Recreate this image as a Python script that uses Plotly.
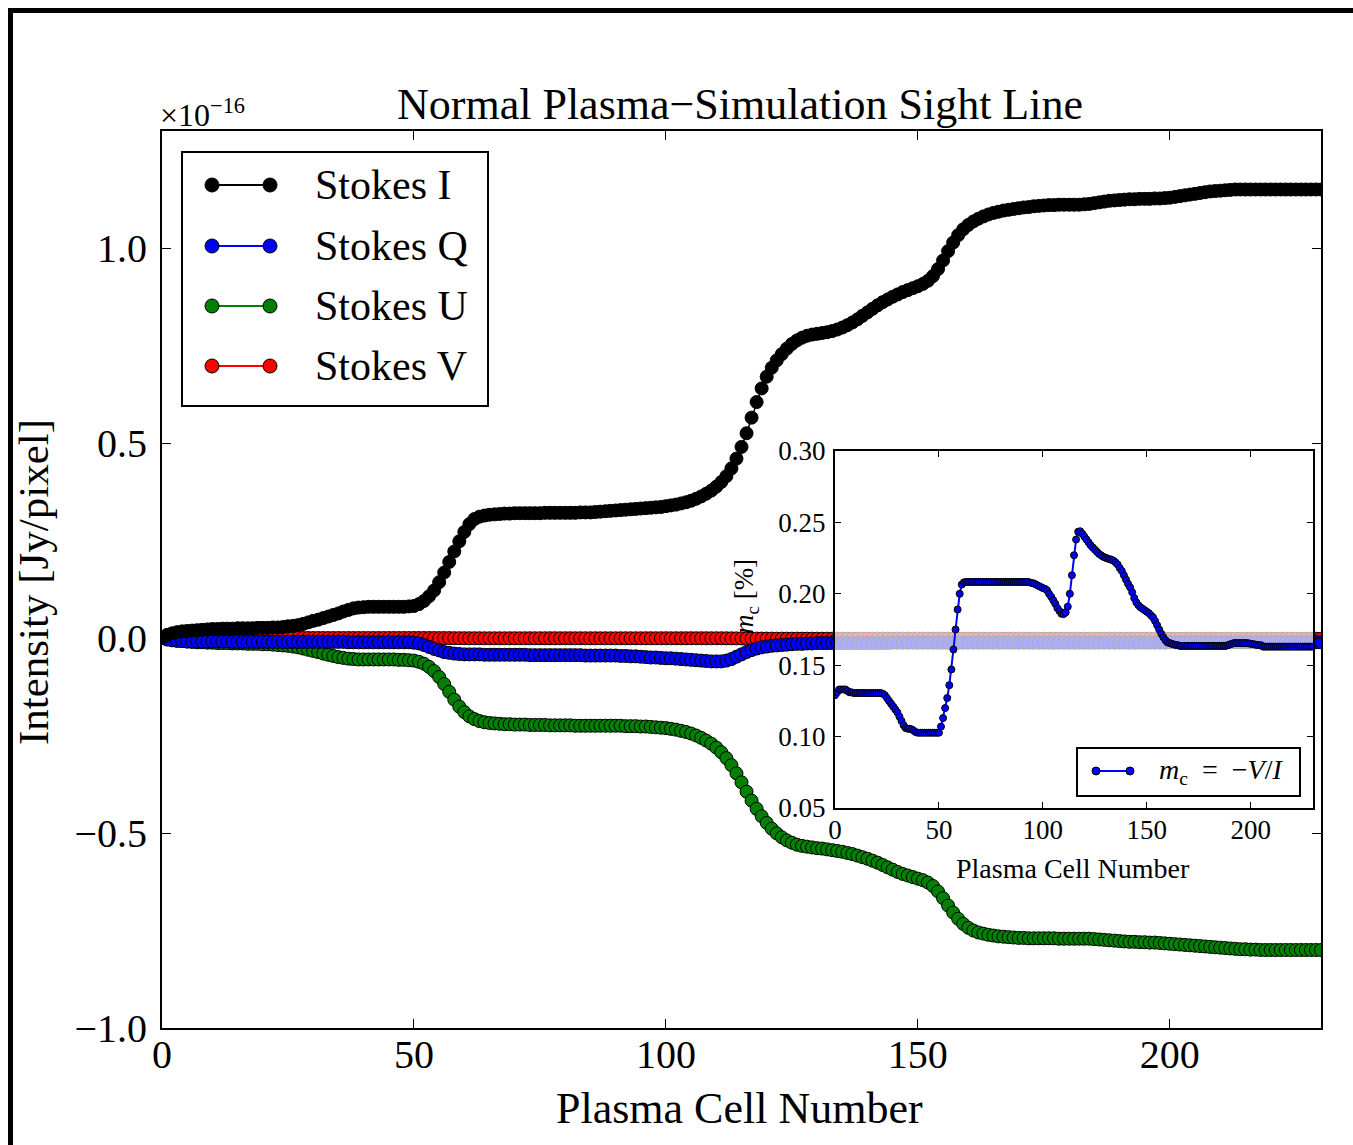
import plotly.graph_objects as go

W, H = 1353, 1145
FONT = "Liberation Serif"

# ---------------- data ----------------
cells = list(range(231))

stokes_I = [
    0.000, 0.008, 0.012, 0.015, 0.017, 0.018, 0.019, 0.020, 0.021, 0.022,
    0.023, 0.023, 0.024, 0.024, 0.024, 0.025, 0.025, 0.025, 0.025, 0.026,
    0.026, 0.026, 0.027, 0.027, 0.028, 0.030, 0.031, 0.033, 0.036, 0.040,
    0.044, 0.047, 0.051, 0.055, 0.059, 0.063, 0.068, 0.072, 0.076, 0.078,
    0.079, 0.080, 0.080, 0.080, 0.080, 0.080, 0.080, 0.080, 0.080, 0.081,
    0.082, 0.087, 0.095, 0.107, 0.122, 0.143, 0.168, 0.195, 0.222, 0.248,
    0.272, 0.292, 0.305, 0.311, 0.314, 0.316, 0.317, 0.318, 0.319, 0.319,
    0.320, 0.320, 0.320, 0.320, 0.320, 0.320, 0.321, 0.321, 0.321, 0.321,
    0.321, 0.321, 0.321, 0.322, 0.322, 0.322, 0.323, 0.324, 0.325, 0.326,
    0.327, 0.328, 0.329, 0.330, 0.331, 0.332, 0.333, 0.334, 0.335, 0.336,
    0.338, 0.340, 0.342, 0.345, 0.348, 0.352, 0.357, 0.363, 0.370, 0.378,
    0.388, 0.400, 0.415, 0.435, 0.460, 0.490, 0.525, 0.565, 0.605, 0.640,
    0.670, 0.693, 0.712, 0.728, 0.742, 0.754, 0.763, 0.770, 0.775, 0.778,
    0.780, 0.782, 0.784, 0.787, 0.791, 0.796, 0.802, 0.809, 0.817, 0.826,
    0.835, 0.844, 0.853, 0.861, 0.868, 0.875, 0.881, 0.887, 0.892, 0.897,
    0.902, 0.908, 0.916, 0.928, 0.946, 0.968, 0.992, 1.014, 1.033, 1.048,
    1.059, 1.068, 1.075, 1.081, 1.086, 1.090, 1.093, 1.096, 1.098, 1.100,
    1.102, 1.104, 1.105, 1.107, 1.108, 1.109, 1.110, 1.110, 1.111, 1.111,
    1.111, 1.111, 1.111, 1.112, 1.113, 1.115, 1.117, 1.119, 1.121, 1.122,
    1.123, 1.124, 1.125, 1.125, 1.126, 1.126, 1.126, 1.127, 1.127, 1.128,
    1.129, 1.131, 1.133, 1.135, 1.137, 1.139, 1.141, 1.143, 1.145, 1.146,
    1.147, 1.148, 1.149, 1.150, 1.150, 1.150, 1.150, 1.150, 1.150, 1.150,
    1.150, 1.150, 1.150, 1.150, 1.150, 1.150, 1.150, 1.150, 1.150, 1.150,
    1.150,
]

stokes_Q = [
    0.000, -0.004, -0.006, -0.007, -0.008, -0.009, -0.009, -0.009, -0.009, -0.009,
    -0.009, -0.009, -0.009, -0.009, -0.010, -0.010, -0.010, -0.010, -0.010, -0.010,
    -0.010, -0.010, -0.010, -0.010, -0.010, -0.010, -0.010, -0.010, -0.010, -0.010,
    -0.010, -0.010, -0.010, -0.010, -0.010, -0.010, -0.010, -0.011, -0.011, -0.011,
    -0.011, -0.011, -0.011, -0.011, -0.011, -0.011, -0.011, -0.011, -0.011, -0.011,
    -0.012, -0.014, -0.018, -0.023, -0.028, -0.032, -0.036, -0.038, -0.040, -0.041,
    -0.042, -0.042, -0.042, -0.042, -0.043, -0.043, -0.043, -0.043, -0.043, -0.043,
    -0.043, -0.043, -0.043, -0.044, -0.044, -0.044, -0.044, -0.044, -0.044, -0.044,
    -0.044, -0.044, -0.044, -0.044, -0.045, -0.045, -0.045, -0.045, -0.045, -0.045,
    -0.045, -0.046, -0.046, -0.047, -0.047, -0.048, -0.049, -0.050, -0.050, -0.051,
    -0.052, -0.052, -0.053, -0.054, -0.055, -0.056, -0.057, -0.058, -0.059, -0.060,
    -0.060, -0.060, -0.058, -0.054, -0.048, -0.042, -0.036, -0.031, -0.027, -0.024,
    -0.022, -0.020, -0.019, -0.018, -0.017, -0.016, -0.015, -0.015, -0.014, -0.014,
    -0.013, -0.013, -0.013, -0.013, -0.013, -0.013, -0.013, -0.013, -0.013, -0.013,
    -0.013, -0.013, -0.013, -0.013, -0.013, -0.012, -0.012, -0.012, -0.012, -0.012,
    -0.012, -0.012, -0.012, -0.012, -0.012, -0.012, -0.012, -0.012, -0.012, -0.012,
    -0.012, -0.012, -0.012, -0.012, -0.012, -0.012, -0.012, -0.012, -0.012, -0.012,
    -0.012, -0.012, -0.012, -0.012, -0.012, -0.012, -0.012, -0.012, -0.012, -0.012,
    -0.012, -0.012, -0.012, -0.012, -0.012, -0.012, -0.012, -0.012, -0.012, -0.012,
    -0.012, -0.012, -0.012, -0.012, -0.012, -0.012, -0.012, -0.012, -0.012, -0.012,
    -0.011, -0.011, -0.011, -0.011, -0.011, -0.011, -0.011, -0.011, -0.011, -0.011,
    -0.011, -0.011, -0.011, -0.011, -0.011, -0.011, -0.011, -0.011, -0.011, -0.011,
    -0.011, -0.011, -0.011, -0.011, -0.011, -0.011, -0.011, -0.011, -0.011, -0.011,
    -0.011,
]

stokes_U = [
    0.000, -0.003, -0.005, -0.007, -0.008, -0.009, -0.010, -0.011, -0.011, -0.012,
    -0.012, -0.013, -0.013, -0.013, -0.014, -0.014, -0.014, -0.015, -0.015, -0.015,
    -0.016, -0.016, -0.017, -0.018, -0.019, -0.020, -0.022, -0.024, -0.027, -0.030,
    -0.033, -0.036, -0.040, -0.043, -0.046, -0.049, -0.051, -0.053, -0.054, -0.055,
    -0.055, -0.055, -0.055, -0.055, -0.055, -0.055, -0.055, -0.056, -0.056, -0.057,
    -0.058, -0.061, -0.066, -0.074, -0.085, -0.100, -0.118, -0.138, -0.158, -0.176,
    -0.190, -0.201, -0.208, -0.213, -0.216, -0.218, -0.219, -0.220, -0.221, -0.221,
    -0.222, -0.222, -0.222, -0.223, -0.223, -0.223, -0.223, -0.224, -0.224, -0.224,
    -0.224, -0.224, -0.225, -0.225, -0.225, -0.225, -0.225, -0.225, -0.225, -0.225,
    -0.225, -0.225, -0.226, -0.226, -0.226, -0.227, -0.227, -0.228, -0.229, -0.230,
    -0.231, -0.233, -0.235, -0.238, -0.241, -0.245, -0.250, -0.256, -0.263, -0.271,
    -0.281, -0.293, -0.308, -0.326, -0.347, -0.370, -0.394, -0.417, -0.438, -0.457,
    -0.474, -0.489, -0.501, -0.511, -0.519, -0.525, -0.530, -0.533, -0.535, -0.537,
    -0.539, -0.540, -0.542, -0.544, -0.546, -0.548, -0.551, -0.554, -0.558, -0.562,
    -0.566, -0.571, -0.576, -0.582, -0.588, -0.594, -0.600, -0.605, -0.609, -0.613,
    -0.617, -0.621, -0.627, -0.636, -0.650, -0.667, -0.686, -0.704, -0.720, -0.733,
    -0.743, -0.750, -0.755, -0.758, -0.761, -0.763, -0.765, -0.766, -0.767, -0.768,
    -0.769, -0.769, -0.770, -0.770, -0.770, -0.770, -0.770, -0.770, -0.771, -0.771,
    -0.771, -0.771, -0.771, -0.771, -0.771, -0.772, -0.773, -0.774, -0.775, -0.776,
    -0.777, -0.778, -0.779, -0.779, -0.780, -0.780, -0.781, -0.781, -0.782, -0.783,
    -0.784, -0.785, -0.786, -0.787, -0.788, -0.789, -0.790, -0.791, -0.792, -0.793,
    -0.794, -0.795, -0.796, -0.797, -0.798, -0.798, -0.799, -0.799, -0.800, -0.800,
    -0.800, -0.800, -0.800, -0.800, -0.800, -0.800, -0.800, -0.800, -0.800, -0.800,
    -0.800,
]

stokes_V = [
    0.0000, 0.0000, 0.0000, 0.0000, 0.0000, 0.0000, 0.0000, 0.0000, 0.0000, 0.0000,
    0.0000, 0.0000, 0.0000, 0.0000, 0.0000, 0.0000, 0.0000, 0.0000, 0.0000, 0.0000,
    0.0000, 0.0000, 0.0000, 0.0000, 0.0000, 0.0000, 0.0000, 0.0000, 0.0000, 0.0000,
    -0.0001, -0.0001, -0.0001, -0.0001, -0.0001, -0.0001, -0.0001, -0.0001, -0.0001, -0.0001,
    -0.0001, -0.0001, -0.0001, -0.0001, -0.0001, -0.0001, -0.0001, -0.0001, -0.0001, -0.0001,
    -0.0001, -0.0001, -0.0001, -0.0001, -0.0002, -0.0002, -0.0002, -0.0003, -0.0004, -0.0005,
    -0.0005, -0.0006, -0.0006, -0.0006, -0.0007, -0.0007, -0.0007, -0.0007, -0.0007, -0.0007,
    -0.0007, -0.0007, -0.0007, -0.0007, -0.0007, -0.0007, -0.0007, -0.0007, -0.0007, -0.0007,
    -0.0007, -0.0007, -0.0007, -0.0007, -0.0007, -0.0007, -0.0007, -0.0007, -0.0007, -0.0007,
    -0.0007, -0.0007, -0.0007, -0.0007, -0.0007, -0.0007, -0.0007, -0.0007, -0.0007, -0.0007,
    -0.0007, -0.0007, -0.0007, -0.0007, -0.0007, -0.0007, -0.0007, -0.0007, -0.0007, -0.0007,
    -0.0007, -0.0007, -0.0008, -0.0009, -0.0010, -0.0011, -0.0012, -0.0014, -0.0015, -0.0015,
    -0.0016, -0.0016, -0.0017, -0.0017, -0.0017, -0.0017, -0.0017, -0.0018, -0.0018, -0.0018,
    -0.0018, -0.0018, -0.0018, -0.0018, -0.0018, -0.0018, -0.0018, -0.0018, -0.0018, -0.0018,
    -0.0018, -0.0017, -0.0017, -0.0017, -0.0017, -0.0017, -0.0017, -0.0017, -0.0017, -0.0017,
    -0.0017, -0.0017, -0.0017, -0.0017, -0.0017, -0.0017, -0.0017, -0.0017, -0.0017, -0.0018,
    -0.0018, -0.0018, -0.0018, -0.0018, -0.0018, -0.0018, -0.0018, -0.0018, -0.0018, -0.0018,
    -0.0018, -0.0018, -0.0018, -0.0018, -0.0018, -0.0018, -0.0018, -0.0018, -0.0018, -0.0018,
    -0.0018, -0.0018, -0.0018, -0.0018, -0.0018, -0.0018, -0.0018, -0.0018, -0.0018, -0.0018,
    -0.0018, -0.0018, -0.0018, -0.0018, -0.0018, -0.0018, -0.0018, -0.0018, -0.0018, -0.0019,
    -0.0019, -0.0019, -0.0019, -0.0019, -0.0019, -0.0019, -0.0019, -0.0019, -0.0019, -0.0019,
    -0.0019, -0.0019, -0.0019, -0.0019, -0.0019, -0.0019, -0.0019, -0.0019, -0.0019, -0.0019,
    -0.0019, -0.0019, -0.0019, -0.0019, -0.0019, -0.0019, -0.0019, -0.0019, -0.0019, -0.0019,
    -0.0019,
]

m_c = [
    0.129, 0.131, 0.133, 0.133, 0.133, 0.133, 0.132, 0.131, 0.131, 0.1305,
    0.1305, 0.1305, 0.1305, 0.1305, 0.1305, 0.1305, 0.1305, 0.1305, 0.1305, 0.1305,
    0.1305, 0.1305, 0.1305, 0.130, 0.129, 0.127, 0.125, 0.123, 0.121, 0.119,
    0.117, 0.114, 0.111, 0.108, 0.106, 0.1055, 0.1055, 0.105, 0.104, 0.103,
    0.1027, 0.1027, 0.1027, 0.1027, 0.1027, 0.1027, 0.1027, 0.1027, 0.1027, 0.1027,
    0.1027, 0.107, 0.113, 0.120, 0.127, 0.136, 0.147, 0.161, 0.175, 0.189,
    0.200, 0.2065, 0.208, 0.2083, 0.2083, 0.2083, 0.2083, 0.2083, 0.2083, 0.2083,
    0.2083, 0.2083, 0.2083, 0.2083, 0.2083, 0.2083, 0.2083, 0.2083, 0.2083, 0.2083,
    0.2083, 0.2083, 0.2083, 0.2083, 0.2083, 0.2083, 0.2083, 0.2083, 0.2083, 0.2083,
    0.2083, 0.2083, 0.2083, 0.2083, 0.2078, 0.2075, 0.207, 0.2063, 0.2055, 0.2048,
    0.204, 0.2035, 0.2025, 0.200, 0.198, 0.1955, 0.193, 0.190, 0.188, 0.186,
    0.1858, 0.187, 0.191, 0.200, 0.213, 0.227, 0.238, 0.2435, 0.2438, 0.242,
    0.240, 0.238, 0.236, 0.234, 0.2325, 0.231, 0.2295, 0.228, 0.227, 0.226,
    0.2253, 0.2248, 0.2243, 0.2238, 0.2232, 0.222, 0.2205, 0.218, 0.216, 0.213,
    0.210, 0.207, 0.2045, 0.201, 0.197, 0.194, 0.192, 0.1905, 0.1895, 0.1885,
    0.1875, 0.1865, 0.185, 0.1835, 0.181, 0.178, 0.175, 0.172, 0.1695, 0.1675,
    0.166, 0.1655, 0.165, 0.1645, 0.1642, 0.164, 0.1635, 0.1635, 0.1635, 0.1635,
    0.1635, 0.1635, 0.1635, 0.1635, 0.1635, 0.1635, 0.1635, 0.1635, 0.1635, 0.1635,
    0.1635, 0.1635, 0.1635, 0.1635, 0.1635, 0.1635, 0.1635, 0.1635, 0.1635, 0.164,
    0.1645, 0.165, 0.1655, 0.1655, 0.1655, 0.1655, 0.1655, 0.1655, 0.1655, 0.1653,
    0.165, 0.1648, 0.1645, 0.1642, 0.164, 0.164, 0.163, 0.163, 0.163, 0.163,
    0.163, 0.163, 0.163, 0.163, 0.163, 0.163, 0.163, 0.163, 0.163, 0.163,
    0.163, 0.163, 0.163, 0.163, 0.163, 0.163, 0.163, 0.163, 0.163, 0.163,
    0.163,
]

series_names = ["Stokes I", "Stokes Q", "Stokes U", "Stokes V"]
series_colors = ["#000000", "#0000ff", "#008000", "#ff0000"]
main_xticks = [0, 50, 100, 150, 200]
main_yticks = [-1.0, -0.5, 0.0, 0.5, 1.0]
main_yticklabels = ["\u22121.0", "\u22120.5", "0.0", "0.5", "1.0"]
inset_xticks = [0, 50, 100, 150, 200]
inset_yticks = [0.05, 0.10, 0.15, 0.20, 0.25, 0.30]
inset_yticklabels = ["0.05", "0.10", "0.15", "0.20", "0.25", "0.30"]


# ---------------- helpers: pixel -> paper ----------------
def px(x):
    return x / W


def py(y):
    return 1 - y / H


main_dom_x = [px(162), px(1321)]
main_dom_y = [py(1028), py(131)]
ins_dom_x = [px(835), px(1313)]
ins_dom_y = [py(808), py(451)]

fig = go.Figure()

series = {"Stokes I": stokes_I, "Stokes Q": stokes_Q, "Stokes U": stokes_U, "Stokes V": stokes_V}
color_of = dict(zip(series_names, series_colors))
draw_order = ["Stokes V", "Stokes U", "Stokes Q", "Stokes I"]
for name in draw_order:
    fig.add_trace(go.Scatter(
        x=cells, y=series[name], mode="lines+markers", name=name,
        line=dict(color=color_of[name], width=1.5),
        marker=dict(size=13, color=color_of[name], line=dict(color="black", width=1)),
        xaxis="x", yaxis="y", showlegend=False,
    ))

fig.add_trace(go.Scatter(
    x=cells, y=m_c, mode="lines+markers", name="m_c = -V/I",
    line=dict(color="#0000ff", width=2),
    marker=dict(size=7, color="#0000ff", line=dict(color="black", width=1)),
    xaxis="x2", yaxis="y2", showlegend=False,
))

axis_common = dict(
    showline=True, linecolor="black", mirror="allticks", ticks="inside",
    tickcolor="black", showgrid=False, zeroline=False, automargin=False,
)

fig.update_layout(
    width=W, height=H,
    margin=dict(l=0, r=0, t=0, b=0, pad=0, autoexpand=False),
    paper_bgcolor="white", plot_bgcolor="rgba(0,0,0,0)",
    showlegend=False,
    font=dict(family=FONT, color="black"),
    xaxis=dict(domain=main_dom_x, range=[0, 230], anchor="y", tickvals=main_xticks,
               ticklen=9, tickwidth=1, linewidth=2,
               tickfont=dict(family=FONT, size=40, color="black"),
               ticklabelstandoff=-10, **axis_common),
    yaxis=dict(domain=main_dom_y, range=[-1.0, 1.3], anchor="x", tickvals=main_yticks,
               ticktext=main_yticklabels, ticklen=9, tickwidth=1, linewidth=2,
               tickfont=dict(family=FONT, size=40, color="black"),
               ticklabelstandoff=5, **axis_common),
    xaxis2=dict(domain=ins_dom_x, range=[0, 230], anchor="y2", tickvals=inset_xticks,
                ticklen=6, tickwidth=1, linewidth=2,
                tickfont=dict(family=FONT, size=27, color="black"),
                ticklabelstandoff=-3, **axis_common),
    yaxis2=dict(domain=ins_dom_y, range=[0.05, 0.30], anchor="x2", tickvals=inset_yticks,
                ticktext=inset_yticklabels, ticklen=6, tickwidth=1, linewidth=2,
                tickfont=dict(family=FONT, size=27, color="black"),
                ticklabelstandoff=2, **axis_common),
)

shapes = []
# semi-transparent inset background (drawn under inset traces, above main traces)
shapes.append(dict(type="rect", xref="x2", yref="y2", x0=0, x1=230, y0=0.05, y1=0.30,
                   fillcolor="rgba(255,255,255,0.68)", line=dict(width=0), layer="below"))
# figure frame (top and left edges)
shapes.append(dict(type="line", xref="paper", yref="paper", x0=px(8), x1=1, y0=py(10.5), y1=py(10.5),
                   line=dict(color="black", width=5)))
shapes.append(dict(type="line", xref="paper", yref="paper", x0=px(10.5), x1=px(10.5), y0=py(8), y1=0,
                   line=dict(color="black", width=5)))

# main legend
shapes.append(dict(type="rect", xref="paper", yref="paper", x0=px(182), x1=px(488), y0=py(406), y1=py(152),
                   line=dict(color="black", width=2), fillcolor="white"))
annotations = []
leg_y = [185, 246, 306, 366]
for name, yy in zip(series_names, leg_y):
    c = color_of[name]
    shapes.append(dict(type="line", xref="paper", yref="paper", x0=px(212), x1=px(270), y0=py(yy), y1=py(yy),
                       line=dict(color=c, width=2)))
    for cx in (212, 270):
        shapes.append(dict(type="circle", xref="paper", yref="paper", x0=px(cx - 7), x1=px(cx + 7),
                           y0=py(yy + 7), y1=py(yy - 7), fillcolor=c, line=dict(color="black", width=1)))
    annotations.append(dict(xref="paper", yref="paper", x=px(313), y=py(yy), text=name, showarrow=False,
                            xanchor="left", yanchor="middle", font=dict(family=FONT, size=42, color="black")))

# inset legend
shapes.append(dict(type="rect", xref="paper", yref="paper", x0=px(1077), x1=px(1300), y0=py(796), y1=py(748),
                   line=dict(color="black", width=2), fillcolor="white"))
shapes.append(dict(type="line", xref="paper", yref="paper", x0=px(1096), x1=px(1130), y0=py(771), y1=py(771),
                   line=dict(color="#0000ff", width=2)))
for cx in (1096, 1130):
    shapes.append(dict(type="circle", xref="paper", yref="paper", x0=px(cx - 4), x1=px(cx + 4),
                       y0=py(771 + 4), y1=py(771 - 4), fillcolor="#0000ff", line=dict(color="black", width=1)))
annotations.append(dict(xref="paper", yref="paper", x=px(1157), y=py(771),
                        text="<i>m</i><sub>c</sub>\u2002=\u2002\u2212<i>V</i>/<i>I</i>", showarrow=False,
                        xanchor="left", yanchor="middle", font=dict(family=FONT, size=28, color="black")))

# titles
annotations.append(dict(xref="paper", yref="paper", x=px(740), y=py(105),
                        text="Normal Plasma\u2212Simulation Sight Line", showarrow=False,
                        xanchor="center", yanchor="middle", font=dict(family=FONT, size=44, color="black")))
annotations.append(dict(xref="paper", yref="paper", x=px(158), y=py(113),
                        text="\u00d710<sup>\u221216</sup>", showarrow=False,
                        xanchor="left", yanchor="middle", font=dict(family=FONT, size=32, color="black")))
annotations.append(dict(xref="paper", yref="paper", x=px(740), y=py(1108),
                        text="Plasma Cell Number", showarrow=False,
                        xanchor="center", yanchor="middle", font=dict(family=FONT, size=44, color="black")))
annotations.append(dict(xref="paper", yref="paper", x=px(33), y=py(582),
                        text="Intensity [Jy/pixel]", showarrow=False, textangle=-90,
                        xanchor="center", yanchor="middle", font=dict(family=FONT, size=43, color="black")))
annotations.append(dict(xref="paper", yref="paper", x=px(1073), y=py(868),
                        text="Plasma Cell Number", showarrow=False,
                        xanchor="center", yanchor="middle", font=dict(family=FONT, size=28, color="black")))
annotations.append(dict(xref="paper", yref="paper", x=px(746), y=py(597),
                        text="<i>m</i><sub>c</sub> [%]", showarrow=False, textangle=-90,
                        xanchor="center", yanchor="middle", font=dict(family=FONT, size=27, color="black")))

fig.update_layout(shapes=shapes, annotations=annotations)

fig.write_html("out.html", config={"displayModeBar": False},
               post_script="document.body.style.margin='0';document.body.style.overflow='hidden';")
